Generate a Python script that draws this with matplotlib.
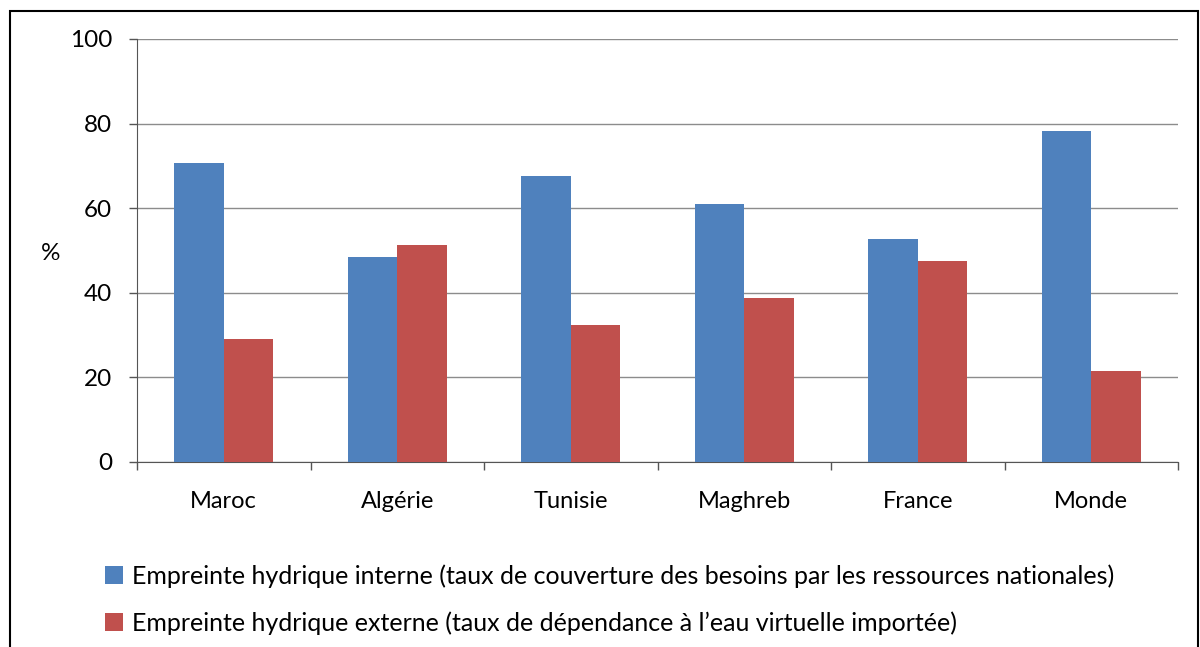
import matplotlib
matplotlib.use("Agg")
import matplotlib.pyplot as plt
import numpy as np
from matplotlib.patches import Rectangle, Patch

categories = ["Maroc", "Algérie", "Tunisie", "Maghreb", "France", "Monde"]
interne = [70.7, 48.5, 67.6, 61.0, 52.7, 78.2]
externe = [29.1, 51.3, 32.3, 38.8, 47.4, 21.6]
yticks = [0, 20, 40, 60, 80, 100]
label_interne = "Empreinte hydrique interne (taux de couverture des besoins par les ressources nationales)"
label_externe = "Empreinte hydrique externe (taux de dépendance à l’eau virtuelle importée)"

blue = "#4F81BD"
red = "#C0504D"

plt.rcParams["font.family"] = ["Lato", "DejaVu Sans"]

W, H = 1200, 647
fig = plt.figure(figsize=(W / 100, H / 100), dpi=100)
fig.patch.set_facecolor("white")

# outer border
fig.add_artist(Rectangle((10 / W, 1 - 660 / H), (1198 - 10) / W, (660 - 11) / H,
                         transform=fig.transFigure, fill=False, edgecolor="black",
                         linewidth=1.5, clip_on=False))

ax = fig.add_axes([137 / W, 1 - 462 / H, (1178 - 137) / W, (462 - 39) / H])
x = np.arange(len(categories))
bw = 0.285
ax.bar(x - bw / 2, interne, width=bw, color=blue, zorder=3)
ax.bar(x + bw / 2, externe, width=bw, color=red, zorder=3)

ax.set_xlim(-0.5, len(categories) - 0.5)
ax.set_ylim(0, 100)
ax.set_yticks(yticks)
ax.set_yticklabels([str(v) for v in yticks], fontsize=17.5, color="#000000")
ax.set_xticks(x)
ax.set_xticklabels(categories, fontsize=17, color="#000000")
ax.tick_params(axis="x", which="major", length=0, pad=21)
ax.set_xticks(np.arange(-0.5, len(categories)), minor=True)
ax.tick_params(axis="x", which="minor", length=6, width=1, color="#555555", direction="out")
ax.tick_params(axis="y", length=6, width=1, color="#555555", pad=12)

ax.grid(axis="y", color="#8c8c8c", linewidth=1, zorder=0)
for s in ["top", "right"]:
    ax.spines[s].set_visible(False)
ax.spines["left"].set_color("#555555")
ax.spines["bottom"].set_color("#555555")

fig.text(51 / W, 1 - 253 / H, "%", fontsize=17.5, ha="center", va="center", color="#000000")

handles = [Patch(facecolor=blue, edgecolor="none"), Patch(facecolor=red, edgecolor="none")]
fig.legend(handles, [label_interne, label_externe], loc="upper left",
           bbox_to_anchor=(105 / W, 1 - 564 / H), frameon=False, fontsize=18,
           handlelength=0.7, handleheight=0.7, handletextpad=0.4, labelspacing=0.95,
           borderpad=0, borderaxespad=0)

fig.savefig("out.png", dpi=100, facecolor="white")
